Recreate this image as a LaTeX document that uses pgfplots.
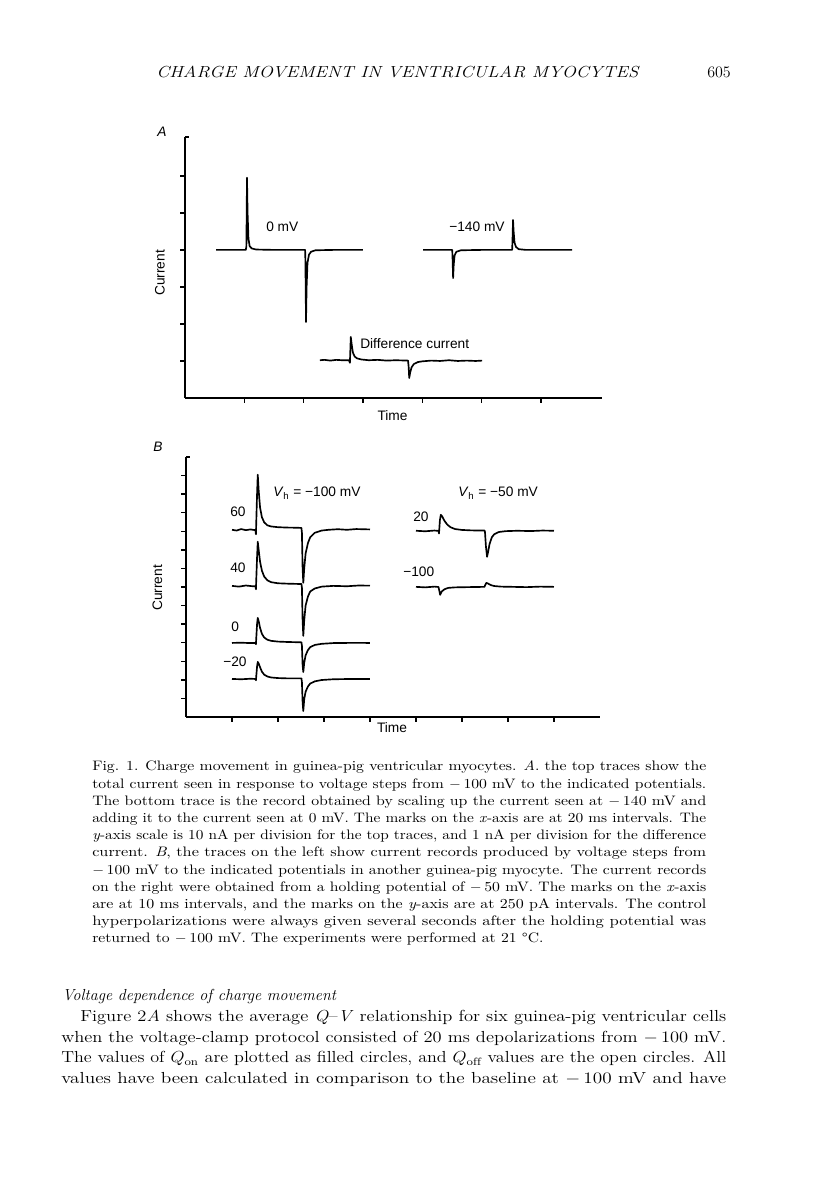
\documentclass[border=0pt]{standalone}
\usepackage{fontspec}
\usepackage{graphicx}
\usepackage{pgfplots}
\pgfplotsset{compat=1.18}
\newfontfamily\figsans{Liberation Sans}
\newcommand\figfont{\figsans\fontsize{10.3}{12}\selectfont}
\newcommand\capline[1]{\resizebox{460.5pt}{\height}{\fontsize{10.3}{12}\selectfont #1}}
\newcommand\bodyline[2]{\resizebox{#1}{\height}{\fontsize{12}{14}\selectfont #2}}
\pgfplotsset{
  trace/.style={black, line width=1.25pt, line join=round, mark=none},
  pagefig/.style={
    anchor=south west, scale only axis,
    axis x line=bottom, axis y line=left,
    axis line style={-, line width=1.1pt},
    xticklabels={}, yticklabels={},
    tick align=outside, major tick length=3.75pt,
    tick style={black, line width=1pt},
  },
}
\begin{document}
\begin{tikzpicture}[x=0.75pt,y=0.75pt]
\fill[white] (0,0) rectangle (816,1203);
% ---------- running head ----------
\node[anchor=base west, inner sep=0] at (156,1125) {\resizebox{361.5pt}{\height}{\fontsize{12}{14}\selectfont\itshape CHARGE MOVEMENT IN VENTRICULAR MYOCYTES}};
\node[anchor=base west, inner sep=0] at (707,1125) {\fontsize{12}{14}\selectfont 605};
% ---------- Panel A ----------
\begin{axis}[pagefig, at={(138.75pt,603.75pt)}, width=312.75pt, height=195.75pt,
  xmin=0, xmax=140.6, ymin=0, ymax=70.5,
  xtick={20,40,...,120}, ytick={10,20,...,60}]
\addplot[trace] coordinates {(10.5,40.0) (15,40.0) (20.5,40.0) (20.7,41) (20.9,59.5) (21.1,50) (21.4,43) (21.8,41) (22.5,40.4) (24,40.1) (30,40.0) (40.5,40.0) (40.6,37) (40.8,20.5) (41.0,30) (41.3,36.5) (41.8,38.7) (42.5,39.5) (44,39.9) (50,40.0) (60,40.0)};
\addplot[trace] coordinates {(80.3,40.0) (90.1,40.0) (90.2,38) (90.4,32.4) (90.6,36) (90.9,38.5) (91.5,39.5) (93,39.9) (100,40.0) (110.3,40.0) (110.4,42) (110.6,48.1) (110.8,45) (111.1,42) (111.6,40.8) (112.5,40.2) (115,40.0) (130.5,40.0)};
\addplot[trace] coordinates {(45.5,10.2) (47,10.3) (49,10.1) (51,10.3) (53,10.2) (55.3,10.2) (55.6,9.5) (55.9,16.5) (56.2,14.5) (56.6,12.3) (57.2,11.2) (58,10.7) (59.5,10.4) (62,10.2) (65,10.3) (68,10.1) (71,10.2) (75.2,10.1) (75.4,8.5) (75.6,5.4) (75.9,6.8) (76.4,8.3) (77.2,9.2) (78.5,9.7) (80,9.9) (83,10.1) (86,10.0) (89,10.2) (92,10.0) (95,10.1) (98,10.0) (100.2,10.1)};
\draw[line width=1.1pt] (rel axis cs:0,1) -- ++(3pt,0);
\end{axis}
\node[anchor=base west, inner sep=0] at (157,1066) {\figfont\itshape A};
\node[anchor=base west, inner sep=0] at (266,971) {\figfont 0 mV};
\node[anchor=base west, inner sep=0] at (449,971) {\figfont −140 mV};
\node[anchor=base west, inner sep=0] at (360,854) {\figfont Difference current};
\node[rotate=90, inner sep=0] at (160,930) {\figfont Current};
\node[anchor=base, inner sep=0] at (392.5,782) {\figfont Time};
% ---------- Panel B ----------
\begin{axis}[pagefig, at={(139.5pt,364.5pt)}, width=310.5pt, height=195pt,
  xmin=0, xmax=90, ymin=0, ymax=3500,
  xtick={10,20,...,80}, ytick={250,500,...,3250}]
\addplot[trace] coordinates {(10,2520) (11,2510) (12,2530) (13,2515) (14,2525) (15.1,2515) (15.2,2460) (15.45,3000) (15.6,3262) (15.8,3050) (16.1,2820) (16.5,2690) (17,2620) (17.7,2580) (18.5,2565) (20,2555) (22,2550) (24,2548) (25.1,2545) (25.2,2480) (25.35,2000) (25.5,1806) (25.7,2000) (26,2200) (26.5,2340) (27,2420) (28,2480) (29.5,2510) (31,2520) (33,2528) (35,2520) (37,2530) (40,2525)};
\addplot[trace] coordinates {(10,1765) (11.5,1755) (13,1770) (14.5,1760) (15.1,1762) (15.2,1720) (15.45,2150) (15.6,2359) (15.8,2250) (16.1,2090) (16.5,1970) (17,1890) (17.7,1840) (18.5,1815) (20,1800) (22,1795) (25.1,1790) (25.2,1740) (25.35,1300) (25.5,1092) (25.7,1300) (26,1500) (26.5,1620) (27,1690) (28,1730) (29.5,1755) (32,1765) (35,1760) (37.5,1770) (40,1768)};
\addplot[trace] coordinates {(10,997) (12,1000) (14,995) (15.1,997) (15.2,980) (15.45,1250) (15.6,1334) (15.8,1290) (16.1,1200) (16.5,1120) (17,1070) (17.7,1040) (18.5,1025) (20,1015) (22,1010) (25.1,1005) (25.2,960) (25.35,700) (25.5,606) (25.7,730) (26,830) (26.5,900) (27,940) (28,970) (29.5,985) (32,995) (36,998) (40,997)};
\addplot[trace] coordinates {(10,512) (12,508) (14,515) (15.1,512) (15.2,495) (15.45,680) (15.6,741) (15.8,720) (16.1,670) (16.5,610) (17,570) (17.7,545) (18.5,532) (20,524) (22,520) (25.1,520) (25.2,470) (25.35,200) (25.5,81) (25.7,240) (26,340) (26.5,410) (27,450) (28,480) (29.5,498) (32,508) (36,512) (40,512)};
\addplot[trace] coordinates {(50,2507) (52,2500) (54,2510) (54.9,2505) (55.0,2470) (55.2,2650) (55.4,2722) (55.7,2700) (56.2,2640) (56.8,2590) (57.5,2555) (58.5,2530) (60,2518) (62,2512) (64.9,2510) (65.0,2490) (65.2,2300) (65.45,2156) (65.7,2230) (66,2330) (66.5,2420) (67,2460) (68,2490) (69.5,2502) (72,2507) (75,2503) (77.5,2510) (80,2507)};
\addplot[trace] coordinates {(50,1752) (52,1745) (54,1755) (54.9,1750) (55.0,1720) (55.25,1644) (55.6,1690) (56.2,1720) (57,1738) (58.5,1745) (61,1748) (64.9,1752) (65.0,1770) (65.3,1806) (65.7,1795) (66.3,1775) (67,1763) (68.5,1755) (71,1752) (74,1748) (77,1755) (80,1752)};
\draw[line width=1.1pt] (rel axis cs:0,1) -- ++(3pt,0);
\end{axis}
\node[anchor=base west, inner sep=0] at (153,751) {\figfont\itshape B};
\node[anchor=base west, inner sep=0] at (273,706) {\figfont\textit{V}\textsubscript{h} = −100 mV};
\node[anchor=base west, inner sep=0] at (458,706) {\figfont\textit{V}\textsubscript{h} = −50 mV};
\node[anchor=base west, inner sep=0] at (230,686) {\figfont 60};
\node[anchor=base west, inner sep=0] at (230,630) {\figfont 40};
\node[anchor=base west, inner sep=0] at (231,571) {\figfont 0};
\node[anchor=base west, inner sep=0] at (223,536) {\figfont −20};
\node[anchor=base west, inner sep=0] at (413,681) {\figfont 20};
\node[anchor=base west, inner sep=0] at (403,626) {\figfont −100};
\node[rotate=90, inner sep=0] at (157.5,615) {\figfont Current};
\node[anchor=base, inner sep=0] at (392,470) {\figfont Time};
% ---------- caption ----------
\node[anchor=base west, inner sep=0] at (92,432.0) {\capline{Fig. 1. Charge movement in guinea-pig ventricular myocytes. \textit{A}. the top traces show the}};
\node[anchor=base west, inner sep=0] at (92,414.8) {\capline{total current seen in response to voltage steps from $-$\,100 mV to the indicated potentials.}};
\node[anchor=base west, inner sep=0] at (92,397.6) {\capline{The bottom trace is the record obtained by scaling up the current seen at $-$\,140 mV and}};
\node[anchor=base west, inner sep=0] at (92,380.4) {\capline{adding it to the current seen at 0 mV. The marks on the \textit{x}-axis are at 20 ms intervals. The}};
\node[anchor=base west, inner sep=0] at (92,363.2) {\capline{\textit{y}-axis scale is 10 nA per division for the top traces, and 1 nA per division for the difference}};
\node[anchor=base west, inner sep=0] at (92,346.0) {\capline{current. \textit{B}, the traces on the left show current records produced by voltage steps from}};
\node[anchor=base west, inner sep=0] at (92,328.8) {\capline{$-$\,100 mV to the indicated potentials in another guinea-pig myocyte. The current records}};
\node[anchor=base west, inner sep=0] at (92,311.6) {\capline{on the right were obtained from a holding potential of $-$\,50 mV. The marks on the \textit{x}-axis}};
\node[anchor=base west, inner sep=0] at (92,294.4) {\capline{are at 10 ms intervals, and the marks on the \textit{y}-axis are at 250 pA intervals. The control}};
\node[anchor=base west, inner sep=0] at (92,277.2) {\capline{hyperpolarizations were always given several seconds after the holding potential was}};
\node[anchor=base west, inner sep=0] at (92,260.0) {\scalebox{1.14}[1]{\fontsize{10.3}{12}\selectfont returned to $-$\,100 mV. The experiments were performed at 21 \textdegree C.}};
% ---------- body text ----------
\node[anchor=base west, inner sep=0] at (62,202) {\fontsize{12}{14}\selectfont\itshape Voltage dependence of charge movement};
\node[anchor=base west, inner sep=0] at (80,181) {\bodyline{484.5pt}{Figure 2\textit{A} shows the average \textit{Q}--\textit{V} relationship for six guinea-pig ventricular cells}};
\node[anchor=base west, inner sep=0] at (61,160.5) {\bodyline{498.75pt}{when the voltage-clamp protocol consisted of 20 ms depolarizations from $-$\,100 mV.}};
\node[anchor=base west, inner sep=0] at (61,140) {\bodyline{498.75pt}{The values of $Q_{\mathrm{on}}$ are plotted as filled circles, and $Q_{\mathrm{off}}$ values are the open circles. All}};
\node[anchor=base west, inner sep=0] at (61,119.5) {\bodyline{498.75pt}{values have been calculated in comparison to the baseline at $-$\,100 mV and have}};
\end{tikzpicture}
\end{document}
